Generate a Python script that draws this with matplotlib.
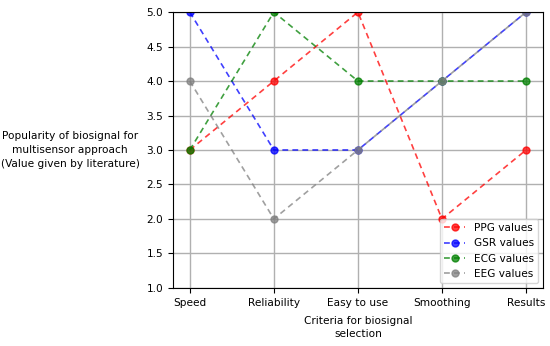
import matplotlib
matplotlib.use("Agg")
import matplotlib.pyplot as plt

criteria = ["Speed", "Reliability", "Easy to use", "Smoothing", "Results"]
ppg = [3, 4, 5, 2, 3]
gsr = [5, 3, 3, 4, 5]
ecg = [3, 5, 4, 4, 4]
eeg = [4, 2, 3, 4, 5]

series = [("PPG values", ppg, "red"), ("GSR values", gsr, "blue"),
          ("ECG values", ecg, "green"), ("EEG values", eeg, "gray")]

plt.rcParams['font.family'] = ['DejaVu Sans']
fig = plt.figure(figsize=(5.5, 3.46), dpi=100)
ax = fig.add_axes([0.3145, 0.168, 0.6725, 0.797])

x = list(range(len(criteria)))
for label, vals, c in series:
    ax.plot(x, vals, linestyle=(0, (3.5, 2.5)), marker='o', color=c, alpha=0.75,
            markersize=5, linewidth=1.2, label=label)

fs = 7.6
ax.set_ylim(1.0, 5.0)
ax.set_xticks(x)
ax.set_xticklabels(criteria, fontsize=fs)
yt = [1.0, 1.5, 2.0, 2.5, 3.0, 3.5, 4.0, 4.5, 5.0]
ax.set_yticks(yt)
ax.set_yticklabels([f"{v:.1f}" for v in yt], fontsize=fs)
ax.grid(True, color='#b0b0b0', linewidth=1.0)
ax.set_axisbelow(True)
ax.set_xlabel("Criteria for biosignal\nselection", fontsize=fs, labelpad=6, linespacing=1.4)
fig.text(70/550, 1 - 150/346, "Popularity of biosignal for\nmultisensor approach\n(Value given by literature)",
         ha='center', va='center', fontsize=fs, linespacing=1.45)
ax.legend(loc='lower right', fontsize=fs, handlelength=2.0, borderaxespad=0.45)

fig.savefig("out.png", dpi=100)
